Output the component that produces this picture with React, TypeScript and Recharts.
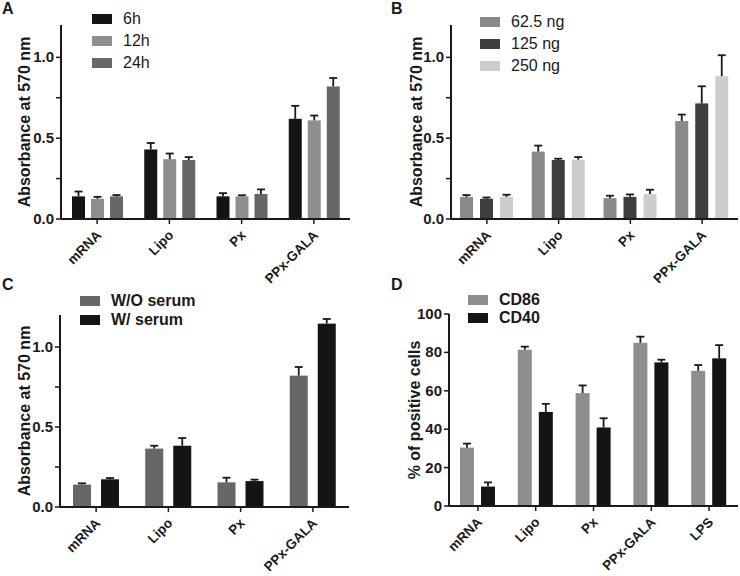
import { BarChart, Bar, XAxis, YAxis, Legend } from 'recharts';

const FONT = '"Liberation Sans", Arial, Helvetica, sans-serif';
const INK = '#1a1a1a';

const groups = ['mRNA', 'Lipo', 'Px', 'PPx-GALA'];
const groupsD = ['mRNA', 'Lipo', 'Px', 'PPx-GALA', 'LPS'];

// A - incubation time
const h6 = [0.14, 0.43, 0.14, 0.62];
const h6Err = [0.03, 0.04, 0.02, 0.08];
const h12 = [0.125, 0.37, 0.14, 0.61];
const h12Err = [0.012, 0.035, 0.007, 0.03];
const h24 = [0.14, 0.365, 0.155, 0.82];
const h24Err = [0.008, 0.018, 0.028, 0.052];

// B - mRNA dose
const ng62 = [0.137, 0.417, 0.129, 0.606];
const ng62Err = [0.011, 0.037, 0.015, 0.04];
const ng125 = [0.125, 0.365, 0.137, 0.715];
const ng125Err = [0.008, 0.008, 0.015, 0.106];
const ng250 = [0.137, 0.367, 0.154, 0.883];
const ng250Err = [0.013, 0.016, 0.027, 0.13];

// C - serum
const woSerum = [0.14, 0.365, 0.154, 0.821];
const woSerumErr = [0.008, 0.018, 0.029, 0.054];
const wSerum = [0.173, 0.383, 0.162, 1.146];
const wSerumErr = [0.008, 0.048, 0.009, 0.029];

// D - maturation markers
const cd86 = [30.4, 81.4, 58.8, 85, 70.4];
const cd86Err = [2.1, 1.6, 4, 3.2, 3];
const cd40 = [10.1, 49, 40.9, 74.8, 76.9];
const cd40Err = [2.2, 4.2, 4.8, 1.4, 6.9];

const absTicks = [0, 0.25, 0.5, 0.75, 1];
const absMajor = [0, 0.5, 1];
const pctTicks = [0, 20, 40, 60, 80, 100];

type Series = { key: string; name: string; color: string; values: number[]; errs: number[] };

function makeRows(cats: string[], series: Series[]) {
  return cats.map((c, i) => {
    const row: any = { name: c };
    series.forEach((s) => {
      row[s.key] = s.values[i];
      row[s.key + 'Err'] = s.errs[i];
    });
    return row;
  });
}

// bar + upper error whisker, scaled from the bar's own pixel height
function ErrBarShape(props: any) {
  const { x, y, width, height, fill, val, err } = props;
  if (!height || height <= 0) return null;
  const unit = height / val;
  const top = y - err * unit;
  const cx = x + width / 2;
  return (
    <g>
      <rect x={x} y={y} width={width} height={height} fill={fill} />
      <line x1={cx} y1={y} x2={cx} y2={top} stroke={INK} strokeWidth={1.8} />
      <line x1={cx - 4} y1={top} x2={cx + 4} y2={top} stroke={INK} strokeWidth={1.8} />
    </g>
  );
}

function XTick({ x, y, payload }: any) {
  const ox = x + 5;
  const oy = y + 10;
  return (
    <text x={ox} y={oy} transform={`rotate(-45 ${ox} ${oy})`} textAnchor="end"
      fontSize={13.5} fontWeight="bold" fill={INK} fontFamily={FONT}>
      {payload.value}
    </text>
  );
}

function makeYTick(major: number[], fmt: (v: number) => string) {
  return ({ x, y, payload }: any) =>
    major.includes(payload.value) ? (
      <text x={x} y={y} dy={5} textAnchor="end" fontSize={15} fontWeight="bold" fill={INK} fontFamily={FONT}>
        {fmt(payload.value)}
      </text>
    ) : null;
}

function LegendBox({ payload, bold, row, order }: any) {
  const items = [...(payload || [])].sort(
    (a: any, b: any) => order.indexOf(a.dataKey) - order.indexOf(b.dataKey)
  );
  return (
    <div style={{ fontFamily: FONT, fontSize: 16, fontWeight: bold ? 'bold' : 'normal', color: INK }}>
      {items.map((e: any) => (
        <div key={e.value} style={{ display: 'flex', alignItems: 'center', height: row }}>
          <span style={{ display: 'inline-block', width: 20, height: 10, background: e.color, marginRight: 11 }} />
          <span>{e.value}</span>
        </div>
      ))}
    </div>
  );
}

type PanelProps = {
  cats: string[];
  series: Series[];
  left: number;
  top: number;
  width: number;
  height: number;
  marginTop: number;
  marginRight: number;
  yWidth: number;
  xHeight: number;
  domain: [number, number];
  ticks: number[];
  major: number[];
  fmt: (v: number) => string;
  yLabel: string;
  yLabelOffset: number;
  barSize: number;
  barGap: number;
  legendLeft: number;
  legendTop: number;
  legendRow: number;
  legendBold: boolean;
};

function Panel(p: PanelProps) {
  const rows = makeRows(p.cats, p.series);
  const order = p.series.map((s) => s.key);
  return (
    <div style={{ position: 'absolute', left: p.left, top: p.top }}>
      <BarChart width={p.width} height={p.height} data={rows} barGap={p.barGap}
        margin={{ top: p.marginTop, right: p.marginRight, bottom: 0, left: 0 }}>
        <XAxis dataKey="name" interval={0} height={p.xHeight} tickSize={5}
          axisLine={{ stroke: INK, strokeWidth: 2 }} tickLine={{ stroke: INK, strokeWidth: 1.5 }} tick={<XTick />} />
        <YAxis type="number" domain={p.domain} ticks={p.ticks} interval={0} width={p.yWidth} tickSize={5}
          axisLine={{ stroke: INK, strokeWidth: 2 }} tickLine={{ stroke: INK, strokeWidth: 1.5 }}
          tick={makeYTick(p.major, p.fmt)}
          label={{ value: p.yLabel, angle: -90, position: 'insideLeft', offset: p.yLabelOffset,
            style: { textAnchor: 'middle', fontSize: 16, fontWeight: 'bold', fill: INK, fontFamily: FONT } }} />
        <Legend layout="vertical" align="center" verticalAlign="middle"
          wrapperStyle={{ left: p.legendLeft, top: p.legendTop, width: 'auto' }}
          content={(lp: any) => <LegendBox payload={lp.payload} bold={p.legendBold} row={p.legendRow} order={order} />} />
        {p.series.map((s) => (
          <Bar key={s.key} dataKey={s.key} name={s.name} fill={s.color} barSize={p.barSize}
            isAnimationActive={false}
            shape={(bp: any) => <ErrBarShape {...bp} fill={s.color} val={bp.payload[s.key]} err={bp.payload[s.key + 'Err']} />} />
        ))}
      </BarChart>
    </div>
  );
}

const letter = (t: string, left: number, top: number) => (
  <div style={{ position: 'absolute', left, top, fontFamily: FONT, fontWeight: 'bold', fontSize: 16, color: INK }}>{t}</div>
);

export default function App() {
  const abs = (v: number) => v.toFixed(1);
  const pct = (v: number) => String(v);
  return (
    <div style={{ position: 'absolute', left: 0, top: 0, width: 740, height: 576, background: '#fff', overflow: 'hidden' }}>
      {letter('A', 2, 0)}
      {letter('B', 391, 0)}
      {letter('C', 2, 276)}
      {letter('D', 391, 276)}
      <Panel cats={groups} left={0} top={0} width={360} height={290} marginTop={25} marginRight={10}
        yWidth={61} xHeight={71} domain={[0, 1.2]} ticks={absTicks} major={absMajor} fmt={abs}
        yLabel="Absorbance at 570 nm" yLabelOffset={24} barSize={13} barGap={6}
        legendLeft={92} legendTop={8} legendRow={22} legendBold={false}
        series={[
          { key: 'h6', name: '6h', color: '#141414', values: h6, errs: h6Err },
          { key: 'h12', name: '12h', color: '#8e8e8e', values: h12, errs: h12Err },
          { key: 'h24', name: '24h', color: '#676767', values: h24, errs: h24Err },
        ]} />
      <Panel cats={groups} left={370} top={0} width={370} height={290} marginTop={25} marginRight={2}
        yWidth={81} xHeight={71} domain={[0, 1.2]} ticks={absTicks} major={absMajor} fmt={abs}
        yLabel="Absorbance at 570 nm" yLabelOffset={46} barSize={13} barGap={7}
        legendLeft={110} legendTop={11} legendRow={22} legendBold={false}
        series={[
          { key: 'ng62', name: '62.5 ng', color: '#8a8a8a', values: ng62, errs: ng62Err },
          { key: 'ng125', name: '125 ng', color: '#3d3d3d', values: ng125, errs: ng125Err },
          { key: 'ng250', name: '250 ng', color: '#cdcdcd', values: ng250, errs: ng250Err },
        ]} />
      <Panel cats={groups} left={0} top={285} width={360} height={291} marginTop={30} marginRight={11}
        yWidth={60} xHeight={69} domain={[0, 1.2]} ticks={absTicks} major={absMajor} fmt={abs}
        yLabel="Absorbance at 570 nm" yLabelOffset={24} barSize={18} barGap={10}
        legendLeft={80} legendTop={6} legendRow={19} legendBold={true}
        series={[
          { key: 'wo', name: 'W/O serum', color: '#676767', values: woSerum, errs: woSerumErr },
          { key: 'w', name: 'W/ serum', color: '#141414', values: wSerum, errs: wSerumErr },
        ]} />
      <Panel cats={groupsD} left={370} top={285} width={370} height={291} marginTop={29} marginRight={2}
        yWidth={79} xHeight={70} domain={[0, 100]} ticks={pctTicks} major={pctTicks} fmt={pct}
        yLabel="% of positive cells" yLabelOffset={44} barSize={14} barGap={7}
        legendLeft={98} legendTop={6} legendRow={18} legendBold={true}
        series={[
          { key: 'cd86', name: 'CD86', color: '#8e8e8e', values: cd86, errs: cd86Err },
          { key: 'cd40', name: 'CD40', color: '#141414', values: cd40, errs: cd40Err },
        ]} />
    </div>
  );
}
